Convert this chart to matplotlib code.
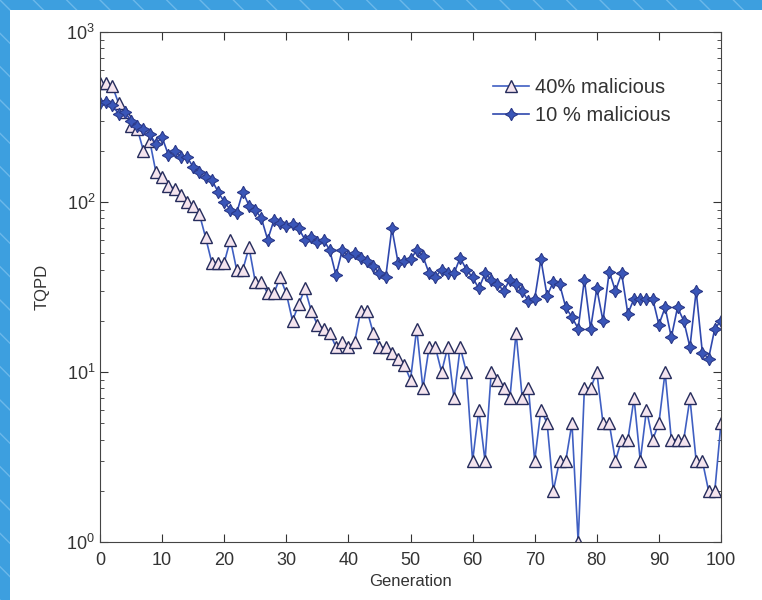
import numpy as np
import matplotlib.pyplot as plt
from matplotlib.patches import Rectangle

# data (generation 0..100)
generation = list(range(0, 101))

mal_40 = [500, 500, 480, 380, 340, 280, 270, 200, 230, 150,
          140, 125, 120, 110, 100, 95, 85, 62, 44, 44,
          44, 60, 40, 40, 54, 34, 34, 29, 29, 36,
          29, 20, 25, 31, 23, 19, 18, 17, 14, 15,
          14, 15, 23, 23, 17, 14, 14, 13, 12, 11,
          9, 18, 8, 14, 14, 10, 14, 7, 14, 10,
          3, 6, 3, 10, 9, 8, 7, 17, 7, 8,
          3, 6, 5, 2, 3, 3, 5, 1, 8, 8,
          10, 5, 5, 3, 4, 4, 7, 3, 6, 4,
          5, 10, 4, 4, 4, 7, 3, 3, 2, 2,
          5]

mal_10 = [380, 390, 370, 330, 340, 300, 280, 270, 250, 220,
          240, 190, 200, 185, 185, 160, 150, 140, 135, 115,
          100, 90, 86, 115, 95, 90, 80, 60, 78, 75,
          72, 74, 70, 60, 62, 58, 60, 52, 37, 52,
          48, 50, 47, 45, 42, 38, 36, 70, 44, 45,
          46, 52, 48, 38, 36, 40, 38, 38, 47, 40,
          36, 31, 38, 35, 33, 30, 35, 33, 30, 26,
          27, 46, 28, 34, 33, 24, 21, 18, 35, 18,
          31, 20, 39, 30, 38, 22, 27, 27, 27, 27,
          19, 24, 16, 24, 20, 14, 30, 13, 12, 18,
          20]

labels = ['40% malicious', '10 % malicious']
x_ticks = list(range(0, 101, 10))

plt.rcParams['font.family'] = ['Liberation Sans', 'DejaVu Sans']

fig = plt.figure(figsize=(7.62, 6.0), dpi=100)
fig.patch.set_facecolor('#3d9fdf')

# blue frame with faint diagonal lines, white page on top of it
fig.patches.append(Rectangle((0, 0), 1, 1, transform=fig.transFigure,
                             facecolor='#3d9fdf', edgecolor='#6cb8ea',
                             hatch='\\', linewidth=0, zorder=-3))
fig.patches.append(Rectangle((10 / 762, 0), 1, 1 - 10 / 600, transform=fig.transFigure,
                             facecolor='white', edgecolor='none', zorder=-2))

ax = fig.add_axes([100 / 762, 58 / 600, 621 / 762, 510 / 600])
ax.set_facecolor('white')

ax.plot(generation, mal_40, color='#3f5fc2', linewidth=1.2,
        marker='^', markersize=8.5, markerfacecolor='#f4e4ee',
        markeredgecolor='#262c5c', markeredgewidth=1.0, label=labels[0])
ax.plot(generation, mal_10, color='#2f48ad', linewidth=1.2,
        marker=(4, 1, 0), markersize=9, markerfacecolor='#3a56b8',
        markeredgecolor='#2b3a8a', markeredgewidth=0.8, label=labels[1])

ax.set_yscale('log')
ax.set_ylim(1, 1000)
ax.set_xlim(0, 100)
ax.set_xticks(x_ticks)

ax.tick_params(axis='both', which='both', direction='in', top=True, right=True,
               labelsize=13, colors='#333333')
ax.tick_params(axis='x', pad=7)
ax.tick_params(which='major', length=6)
ax.tick_params(which='minor', length=3)
for s in ax.spines.values():
    s.set_color('#444444')

ax.set_xlabel('Generation', fontsize=12, color='#333333', labelpad=4)
ax.set_ylabel('TQPD', fontsize=12, color='#333333', labelpad=12)

leg = ax.legend(loc='upper left', bbox_to_anchor=(0.62, 0.925), frameon=False,
                fontsize=14.5, handlelength=1.8, handletextpad=0.3,
                labelspacing=0.45, borderaxespad=0.0)
for t in leg.get_texts():
    t.set_color('#333333')

fig.savefig('out.png', dpi=100, facecolor=fig.get_facecolor())
